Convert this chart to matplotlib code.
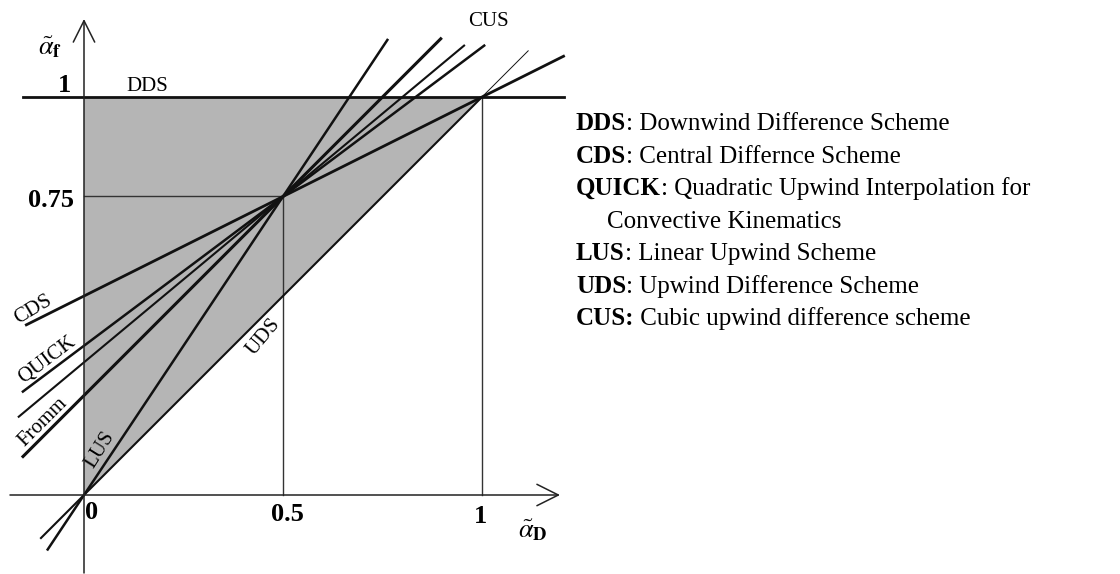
import matplotlib.pyplot as plt
import numpy as np

plt.rcParams['font.family'] = ['Liberation Serif', 'DejaVu Serif']
plt.rcParams['mathtext.fontset'] = 'stix'

# normalised variable diagram: every scheme is a line  y = a + b*x
names = ['CDS', 'QUICK', 'CUS', 'Fromm', 'LUS', 'UDS']
intercepts = [0.5, 0.375, 1 / 3, 0.25, 0.0, 0.0]
slopes = [0.5, 0.75, 5 / 6, 1.0, 1.5, 1.0]
x_from = [-0.148, -0.156, -0.166, -0.156, -0.093, -0.11]
x_to = [1.208, 1.008, 0.957, 0.899, 0.764, 1.0]
dds_level = 1.0
uds_ext = [1.0, 1.116]  # thin continuation of UDS past (1,1)

# key points / ticks
x_ticks = [0, 0.5, 1]
x_tick_labels = ['0', '0.5', '1']
y_ticks = [0.75, 1]
y_tick_labels = ['0.75', '1']

legend_bold = ['DDS', 'CDS', 'QUICK', '', 'LUS', 'UDS', 'CUS:']
legend_rest = [': Downwind Difference Scheme',
               ': Central Differnce Scheme',
               ': Quadratic Upwind Interpolation for',
               'Convective Kinematics',
               ': Linear Upwind Scheme',
               ': Upwind Difference Scheme',
               ' Cubic upwind difference scheme']

lws = [2.0, 1.8, 1.5, 2.2, 1.8, 1.5]
ink = '#111111'

fig = plt.figure(figsize=(11.2, 5.74), dpi=100)
ax = fig.add_axes([0, 0, 1, 1])
# 398 px per unit, origin at pixel (84, 495)
ax.set_xlim(-84 / 398, (1120 - 84) / 398)
ax.set_ylim((495 - 574) / 398, 495 / 398)
ax.axis('off')

# bounded region (between UDS, DDS and the y axis)
ax.fill([0, 0, 1], [0, 1, 1], color='#b5b5b5', zorder=0, lw=0)

# guide lines to the point (0.5, 0.75) and to (1, 1)
ax.plot([0, 0.5], [0.75, 0.75], color='#333333', lw=1.0, zorder=1)
ax.plot([0.5, 0.5], [0, 0.75], color='#333333', lw=1.0, zorder=1)
ax.plot([1, 1], [0, 1], color='#333333', lw=1.0, zorder=1)

for a, b, x0, x1, lw in zip(intercepts, slopes, x_from, x_to, lws):
    xs = np.array([x0, x1])
    ax.plot(xs, a + b * xs, color=ink, lw=lw, zorder=3, solid_capstyle='butt')
ax.plot(uds_ext, uds_ext, color=ink, lw=0.7, zorder=3)
ax.plot([-0.153, 1.206], [dds_level, dds_level], color=ink, lw=2.0, zorder=3)

# axes with open arrow heads
arrow = dict(arrowstyle='->,head_length=1.1,head_width=0.55', lw=1.1,
             color='#222222', mutation_scale=14, shrinkA=0, shrinkB=0)
ax.annotate('', xy=(1.196, 0), xytext=(-0.186, 0), arrowprops=arrow, zorder=4)
ax.annotate('', xy=(0, 1.196), xytext=(0, -0.196), arrowprops=arrow, zorder=4)

# tick labels
tk = dict(fontsize=19, fontweight='bold', ha='center', va='center')
ax.text(0.02, -0.045, x_tick_labels[0], **tk)
ax.text(0.51, -0.05, x_tick_labels[1], **tk)
ax.text(0.995, -0.055, x_tick_labels[2], **tk)
ax.text(-0.082, 0.741, y_tick_labels[0], **tk)
ax.text(-0.048, 1.030, y_tick_labels[1], **tk)

ax.text(-0.085, 1.125, r'$\tilde{\alpha}_{\mathbf{f}}$', fontsize=19, ha='center', va='center')
ax.text(1.128, -0.088, r'$\tilde{\alpha}_{\mathbf{D}}$', fontsize=19, ha='center', va='center')

# scheme names along the lines
lab = dict(fontsize=15, ha='center', va='center')
ax.text(0.158, 1.027, 'DDS', **lab)
ax.text(1.015, 1.19, 'CUS', **lab)
ax.text(-0.128, 0.465, 'CDS', rotation=31, **lab)
ax.text(-0.093, 0.339, 'QUICK', rotation=37, **lab)
ax.text(-0.103, 0.183, 'Fromm', rotation=45, **lab)
ax.text(0.040, 0.113, 'LUS', rotation=58, **lab)
ax.text(0.450, 0.397, 'UDS', rotation=50, **lab)

# key on the right
fs = 18
base_y = [130, 163, 195, 228, 260, 293, 325]
for bold, rest, py in zip(legend_bold, legend_rest, base_y):
    yy = (495 - py) / 398
    if bold:
        t = ax.text((576 - 84) / 398, yy, bold, fontsize=fs, fontweight='bold',
                    va='baseline', ha='left')
        ax.annotate(rest, xy=(1, 0), xycoords=t, fontsize=fs, va='bottom', ha='left')
    else:
        ax.text((607 - 84) / 398, yy, rest, fontsize=fs, va='baseline', ha='left')

fig.savefig('out.png', dpi=100)
